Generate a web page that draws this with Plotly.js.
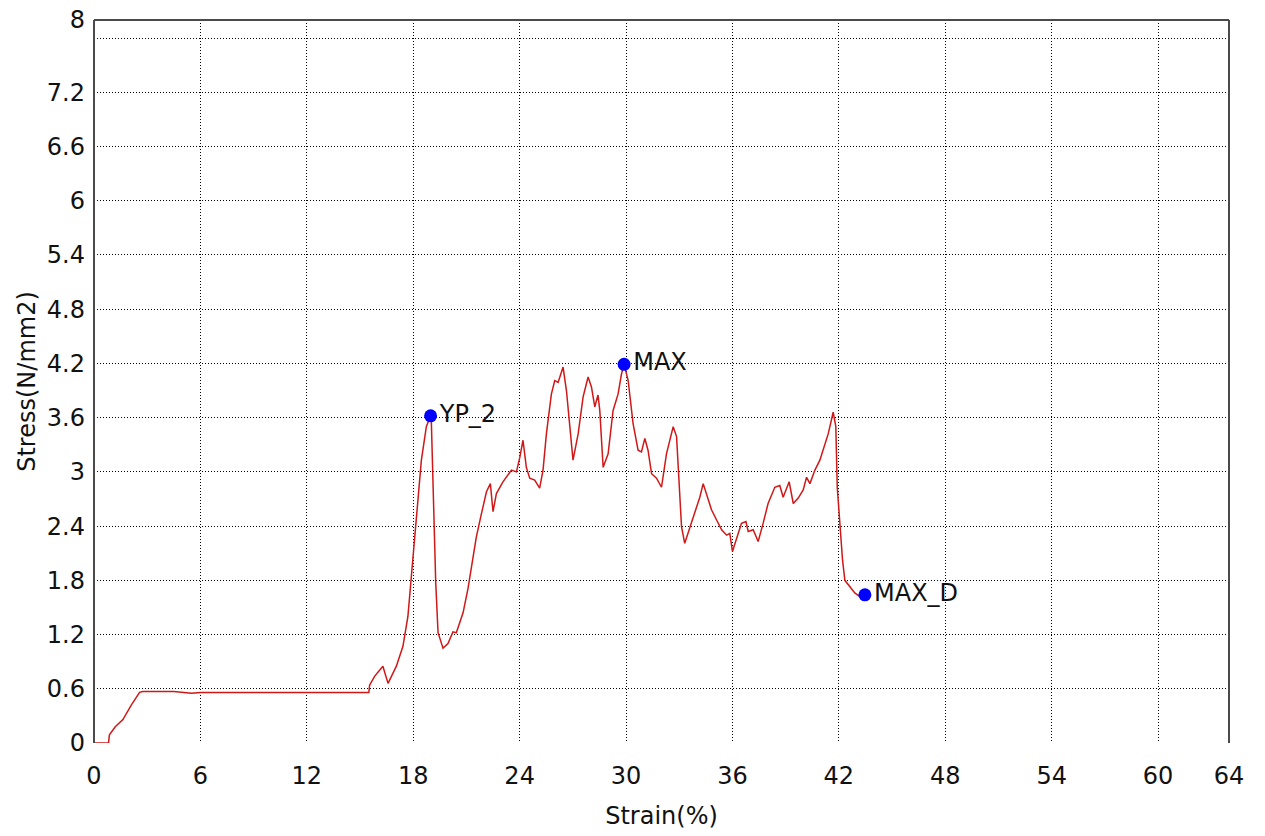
<!DOCTYPE html>
<html>
<head>
<meta charset="utf-8">
<script src="https://cdn.plot.ly/plotly-3.0.1.min.js"></script>
<style>
  html, body { margin: 0; padding: 0; background: #ffffff; }
  #chart { width: 1265px; height: 836px; }
</style>
</head>
<body>
<div id="chart"></div>
<script>
// ---- data ----
const strain = [
  0, 0.82, 0.87, 1.2, 1.63, 2.1, 2.57, 2.75, 4.5, 5.2,
  5.5, 6.0, 9, 12, 15.5, 15.54, 15.83, 16.29, 16.58, 17.05,
  17.42, 17.7, 17.9, 18.08, 18.27, 18.46, 18.74, 18.98, 19.02, 19.16,
  19.27, 19.4, 19.68, 19.96, 20.24, 20.43, 20.81, 21.09, 21.28, 21.56,
  21.85, 22.13, 22.35, 22.5, 22.69, 23.06, 23.54, 23.82, 24.01, 24.19,
  24.38, 24.57, 24.85, 25.13, 25.32, 25.51, 25.79, 25.98, 26.17, 26.45,
  26.64, 26.83, 27.01, 27.3, 27.58, 27.86, 28.05, 28.24, 28.42, 28.52,
  28.71, 28.99, 29.27, 29.55, 29.74, 29.89, 30.12, 30.4, 30.68, 30.87,
  31.06, 31.24, 31.44, 31.72, 32.0, 32.28, 32.66, 32.85, 33.03, 33.13,
  33.31, 33.5, 33.78, 34.16, 34.35, 34.54, 34.82, 35.1, 35.39, 35.67,
  35.85, 36.0, 36.23, 36.51, 36.76, 36.89, 37.17, 37.45, 37.73, 38.01,
  38.39, 38.67, 38.86, 39.2, 39.43, 39.71, 39.99, 40.18, 40.37, 40.65,
  40.93, 41.12, 41.4, 41.68, 41.83, 41.91, 42.06, 42.21, 42.34, 42.62,
  42.9, 43.19, 43.47
];
const stress = [
  0, 0, 0.09, 0.18, 0.26, 0.42, 0.56, 0.57, 0.57, 0.56,
  0.55, 0.56, 0.56, 0.56, 0.56, 0.64, 0.74, 0.85, 0.66, 0.85,
  1.07, 1.4, 1.84, 2.24, 2.69, 3.13, 3.5, 3.62, 3.57, 2.69,
  1.77, 1.22, 1.05, 1.1, 1.23, 1.22, 1.44, 1.71, 1.95, 2.28,
  2.54, 2.78, 2.87, 2.56, 2.76, 2.89, 3.02, 3.0, 3.16, 3.35,
  3.05, 2.93, 2.91, 2.82, 3.02, 3.42, 3.86, 4.01, 3.99, 4.16,
  3.9, 3.53, 3.13, 3.42, 3.83, 4.05, 3.94, 3.72, 3.85, 3.68,
  3.05, 3.2, 3.68, 3.86, 4.08, 4.19, 4.01, 3.53, 3.24, 3.22,
  3.37, 3.24, 2.98, 2.93, 2.83, 3.2, 3.5, 3.39, 2.83, 2.39,
  2.21, 2.32, 2.5, 2.72, 2.87, 2.76, 2.58, 2.47, 2.36, 2.3,
  2.32, 2.12, 2.25, 2.43, 2.45, 2.34, 2.36, 2.23, 2.43, 2.65,
  2.83, 2.85, 2.72, 2.89, 2.65, 2.71, 2.8, 2.94, 2.87, 3.02,
  3.13, 3.24, 3.42, 3.66, 3.5, 2.83, 2.39, 2.02, 1.8, 1.73,
  1.66, 1.62, 1.64
];

const pointLabels = ["YP_2", "MAX", "MAX_D"];
const pointStrain = [18.98, 29.89, 43.47];
const pointStress = [3.62, 4.19, 1.64];

const xTickVals = [0, 6, 12, 18, 24, 30, 36, 42, 48, 54, 60, 64];
const xTickText = ["0", "6", "12", "18", "24", "30", "36", "42", "48", "54", "60", "64"];
const yTickVals = [0, 0.6, 1.2, 1.8, 2.4, 3, 3.6, 4.2, 4.8, 5.4, 6, 6.6, 7.2, 7.8, 8];
const yTickText = ["0", "0.6", "1.2", "1.8", "2.4", "3", "3.6", "4.2", "4.8", "5.4", "6", "6.6", "7.2", "", "8"];

const FONT = "DejaVu Sans, Arial, sans-serif";
const FS = 24;

const traces = [
  {
    x: strain, y: stress, type: "scatter", mode: "lines",
    line: { color: "#d01818", width: 1.5 },
    hoverinfo: "skip", showlegend: false
  },
  {
    x: pointStrain, y: pointStress, type: "scatter", mode: "markers+text",
    text: pointLabels, textposition: "middle right",
    textfont: { family: FONT, size: FS, color: "#111111" },
    marker: { color: "#0000ff", size: 13 },
    showlegend: false
  }
];

const layout = {
  width: 1265, height: 836,
  margin: { l: 94, r: 36, t: 20, b: 93 },
  paper_bgcolor: "#ffffff", plot_bgcolor: "#ffffff",
  font: { family: FONT, size: FS, color: "#111111" },
  showlegend: false,
  xaxis: {
    range: [0, 64], tickvals: xTickVals, ticktext: xTickText,
    showgrid: true, gridcolor: "#000000", gridwidth: 1, griddash: "1px,2px",
    zeroline: false, showline: false, ticks: "", ticklabelstandoff: 16,
    tickfont: { family: FONT, size: FS, color: "#111111" },
    title: { text: "Strain(%)", font: { family: FONT, size: FS, color: "#111111" }, standoff: 18 }
  },
  yaxis: {
    range: [0, 8], tickvals: yTickVals, ticktext: yTickText,
    showgrid: true, gridcolor: "#000000", gridwidth: 1, griddash: "1px,2px",
    zeroline: false, showline: false, ticks: "", ticklabelstandoff: 8,
    tickfont: { family: FONT, size: FS, color: "#111111" },
    title: { text: "Stress(N/mm2)", font: { family: FONT, size: FS, color: "#111111" }, standoff: 4 }
  },
  shapes: [
    { type: "line", xref: "paper", yref: "paper", x0: 0, x1: 1, y0: 1, y1: 1, line: { color: "#4a4a4a", width: 2 } },
    { type: "line", xref: "paper", yref: "paper", x0: 0, x1: 0, y0: 0, y1: 1, line: { color: "#4a4a4a", width: 2 } },
    { type: "line", xref: "paper", yref: "paper", x0: 1, x1: 1, y0: 0, y1: 1, line: { color: "#4a4a4a", width: 2 } }
  ]
};

Plotly.newPlot("chart", traces, layout, { displayModeBar: false, staticPlot: true });
</script>
</body>
</html>
